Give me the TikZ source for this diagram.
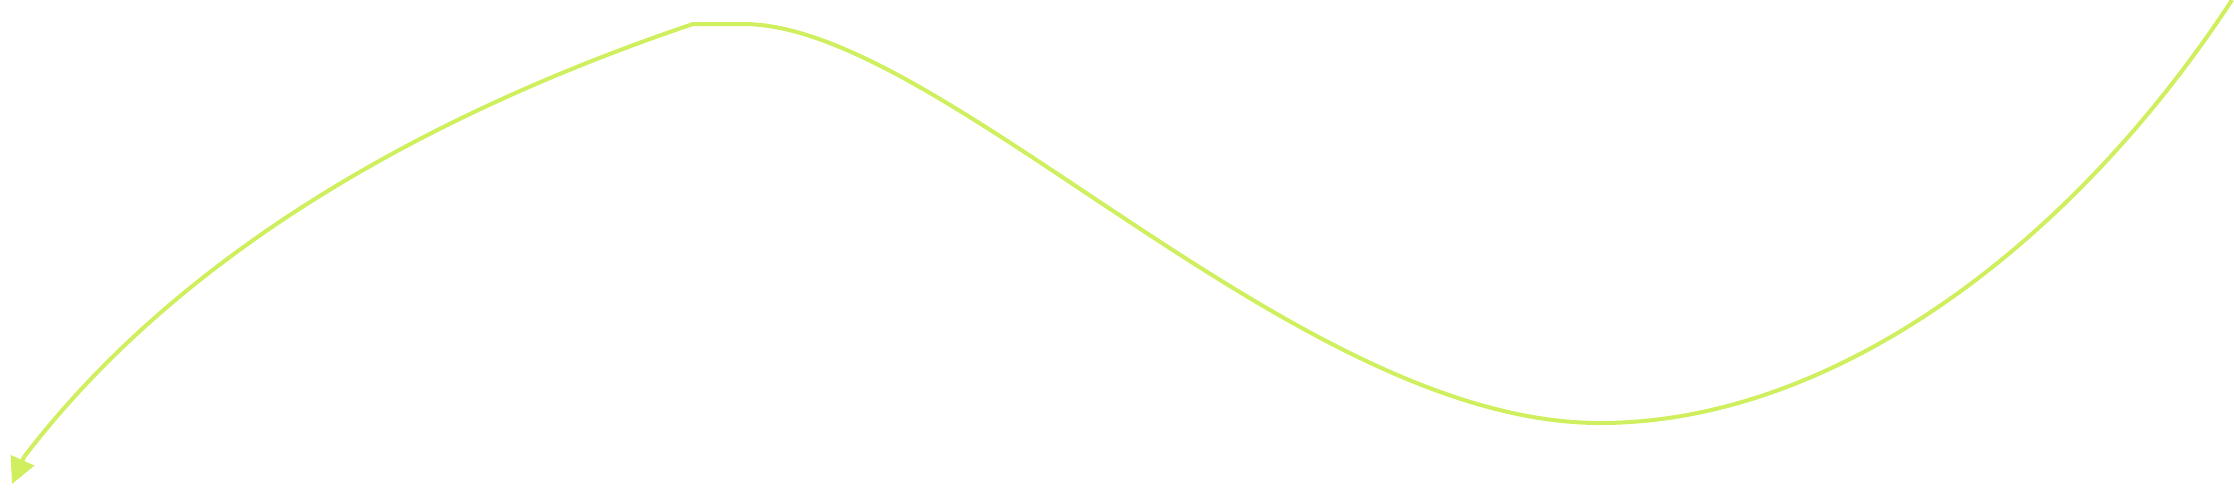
\documentclass[tikz,border=0pt]{standalone}
\usepackage{xcolor}
\usetikzlibrary{arrows.meta}
\definecolor{lime}{RGB}{207,239,94}

\begin{document}
\begin{tikzpicture}[x=0.01cm,y=-0.01cm,
    wave/.style={draw=lime,line width=0.4mm,line join=round,fill=none},
    wavetip/.style={-{Triangle[length=2.6mm,width=2.5mm]}}]
  \useasboundingbox (0,0) rectangle (2234,490);
  \coordinate (start) at (2232,0);
  \coordinate (low) at (1600,423);
  \coordinate (crest) at (743,24);
  \coordinate (corner) at (693,24);
  \coordinate (base) at (24,457);
  \coordinate (tip) at (12,484);
  % one long wave, ending in the arrow at the lower left
  \draw[wave] (start) .. controls (2068,250) and (1830,423) .. (low)
    .. controls (1295,423) and (943,24) .. (crest)
    -- (corner)
    .. controls (450,106) and (190,240) .. (base);
  \draw[wave,wavetip] (base) -- (tip);
\end{tikzpicture}
\end{document}
